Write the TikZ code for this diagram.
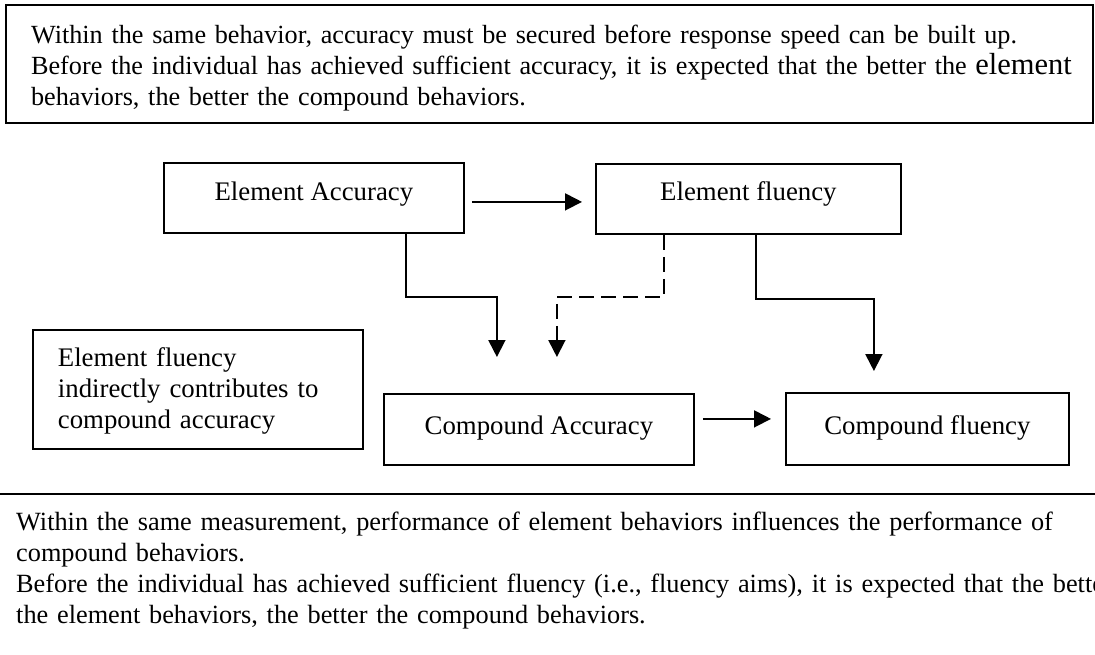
\documentclass[tikz,border=0pt]{standalone}
\usepackage{fontspec}
\setmainfont{Liberation Serif}
\usetikzlibrary{arrows.meta}
\begin{document}
\begin{tikzpicture}[x=1pt,y=-1pt,
  every node/.style={font=\fontsize{26.8}{31}\selectfont, text=black},
  stage/.style={draw=black, line width=1.8pt, inner sep=0pt, anchor=north west},
  textbox/.style={draw=black, line width=1.8pt, inner xsep=25pt, inner ysep=0pt,
    align=left, anchor=north west},
  prose/.style={font=\fontsize{26.2}{31}\selectfont},
  link/.style={draw=black, line width=1.8pt, -{Triangle[length=17pt,width=17pt]}},
  hint/.style={link, dash pattern=on 15pt off 7pt},
]
\useasboundingbox (0,0) rectangle (1095,655);
\clip (0,0) rectangle (1095,655);

% statement about accuracy
\node[textbox, prose, line width=2.2pt, text width=1037pt, text height=38.5pt, text depth=79.5pt]
  (rule) at (5,4)
  {\mbox{Within the same behavior, accuracy must be secured before response speed can be built up.}\\
   \mbox{Before the individual has achieved sufficient accuracy, it is expected that the better the {\fontsize{30.5}{31}\selectfont element}}\\
   \mbox{behaviors, the better the compound behaviors.}};

% the four stages
\node[stage, minimum width=300pt, text height=38pt, text depth=32pt] (ea) at (163,162) {Element Accuracy};
\node[stage, minimum width=305pt, text height=37pt, text depth=33pt] (ef) at (595,163) {Element fluency};
\node[stage, minimum width=310pt, text height=41pt, text depth=30pt] (ca) at (383,393) {Compound Accuracy};
\node[stage, minimum width=283pt, text height=42pt, text depth=30pt] (cf) at (785,392) {Compound fluency};

% side note
\node[textbox, text width=280pt, text height=37pt, text depth=82pt] (note) at (32,329)
  {\mbox{Element fluency}\\ \mbox{indirectly contributes to}\\ \mbox{compound accuracy}};

% relations
\draw[link] ([xshift=7pt,yshift=-4pt]ea.east) -- ([xshift=-13pt,yshift=-3pt]ef.west);
\draw[link] ([xshift=8pt,yshift=10.5pt]ca.east) -- ([xshift=-14pt,yshift=10pt]cf.west);
\draw[link] ([xshift=92pt]ea.south) -- ++(0,63) -| ([xshift=-42pt,yshift=36pt]ca.north);
\draw[hint] ([xshift=-84.5pt]ef.south) -- ++(0,62) -| ([xshift=18pt,yshift=36pt]ca.north);
\draw[link] ([xshift=7.5pt]ef.south) -- ++(0,64) -| ([xshift=-53.5pt,yshift=21pt]cf.north);

% separator
\draw[line width=2.4pt, black] (0,494) -- (1095,494);

% statement about measurement
\node[prose, font=\fontsize{26.3}{31}\selectfont, anchor=base west, inner sep=0pt, text width=1300pt, align=left]
  (meas) at (16,530)
  {\mbox{Within the same measurement, performance of element behaviors influences the performance of}\\
   \mbox{compound behaviors.}\\
   \mbox{Before the individual has achieved sufficient fluency (i.e., fluency aims), it is expected that the better}\\
   \mbox{the element behaviors, the better the compound behaviors.}};
\end{tikzpicture}
\end{document}
